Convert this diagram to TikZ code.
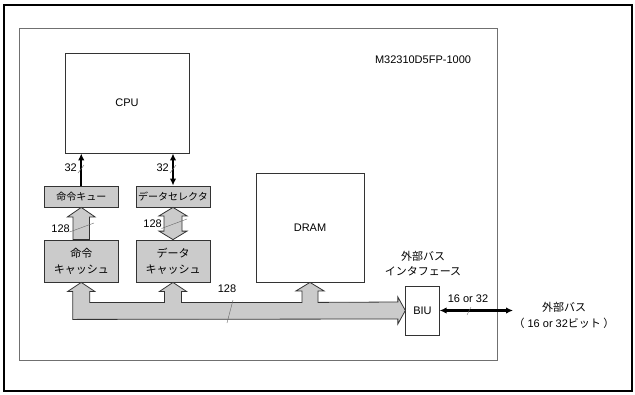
\documentclass[tikz,border=0pt]{standalone}
\usepackage{fontspec}
\setmainfont{Liberation Sans}
\newfontfamily\jp{Noto Sans CJK JP}
\usetikzlibrary{arrows.meta,calc}
\definecolor{boxgray}{HTML}{CBCBCB}
\definecolor{edge}{HTML}{333333}
\definecolor{chipedge}{HTML}{707070}
\begin{document}
\begin{tikzpicture}[x=1pt,y=-1pt,
  every node/.style={font=\fontsize{11}{12}\selectfont, inner sep=0pt},
  whitebox/.style={draw=edge, line width=0.8pt, fill=white},
  graybox/.style={draw=edge, line width=0.8pt, fill=boxgray},
  jtext/.style={font=\jp\fontsize{10}{13.5}\selectfont, align=center},
  thickarrow/.style={line width=2.2pt, -{Latex[length=7pt,width=6.5pt]}},
  thickboth/.style={line width=2.2pt, {Latex[length=7pt,width=6.5pt]}-{Latex[length=7pt,width=6.5pt]}},
  widebus/.style={draw=edge, line width=0.8pt, fill=boxgray, line join=miter},
  slash/.style={draw=black!60, line width=0.4pt},
  lbl/.style={font=\fontsize{11}{12}\selectfont}]
\useasboundingbox (0,0) rectangle (635,394);
\draw[line width=2.6pt] (4,5) rectangle (632,391);
\draw[chipedge, line width=0.9pt] (19,28) rectangle (497,360);

\node[lbl] (chip) at (423,60) {M32310D5FP-1000};

\node[whitebox, minimum width=124pt, minimum height=100pt] (cpu) at (127,103) {CPU};
\node[graybox, jtext, minimum width=74.5pt, minimum height=21pt] (iq) at (81.25,196.5) {命令キュー};
\node[graybox, jtext, minimum width=74pt, minimum height=21pt] (ds) at (173,196.5) {データセレクタ};
\node[graybox, jtext, minimum width=74.5pt, minimum height=42pt, font=\jp\fontsize{11}{16}\selectfont] (ic) at (81.25,261) {命令\\キャッシュ};
\node[graybox, jtext, minimum width=74pt, minimum height=42pt, font=\jp\fontsize{11}{16}\selectfont] (dc) at (173,261) {データ\\キャッシュ};
\node[whitebox, minimum width=108pt, minimum height=109pt] (dram) at (310,227.5) {DRAM};
\node[whitebox, minimum width=33.5pt, minimum height=49pt] (biu) at (422.5,310.5) {BIU};
\node[jtext, font=\jp\fontsize{11}{15}\selectfont] (biulbl) at (423,264) {外部バス\\インタフェース};

% CPU connections
\draw[thickarrow] (iq.north) -- (iq.north |- cpu.south);
\draw[thickboth] (ds.north) -- (ds.north |- cpu.south);
\node[lbl, anchor=east] (w1) at (77,168) {32};
\draw[slash] (78,173) -- (84,165);
\node[lbl, anchor=east] (w2) at (169,168) {32};
\draw[slash] (170,173) -- (176,165);

% iq <- ic wide arrow
\draw[widebus] ($(ic.north)+(-8.25,0)$) -- ($(iq.south)+(-8.25,9.5)$) -- ($(iq.south)+(-13.75,9.5)$)
  -- (iq.south) -- ($(iq.south)+(13.75,9.5)$) -- ($(iq.south)+(8.25,9.5)$) -- ($(ic.north)+(8.25,0)$) -- cycle;
\node[lbl, anchor=east] (w3) at (70,228.5) {128};
\draw[slash] (69.5,232) -- (94,223);

% ds <-> dc wide double arrow
\draw[widebus] (ds.south) -- ($(ds.south)+(14,8.5)$) -- ($(ds.south)+(9,8.5)$) -- ($(dc.north)+(9,-8.5)$)
  -- ($(dc.north)+(14,-8.5)$) -- (dc.north) -- ($(dc.north)+(-14,-8.5)$) -- ($(dc.north)+(-9,-8.5)$)
  -- ($(ds.south)+(-9,8.5)$) -- ($(ds.south)+(-14,8.5)$) -- cycle;
\node[lbl, anchor=east] (w4) at (162,223.5) {128};
\draw[slash] (161.5,228.5) -- (187,219);

% internal bus
\draw[widebus]
  ($(ic.south)+(-8.5,37)$) -- ($(ic.south)+(-8.5,9)$) -- ($(ic.south)+(-13.5,9)$) -- (ic.south)
  -- ($(ic.south)+(13.5,9)$) -- ($(ic.south)+(8.5,9)$) -- ($(ic.south)+(8.5,20)$)
  -- ($(dc.south)+(-8.5,20)$) -- ($(dc.south)+(-8.5,9)$) -- ($(dc.south)+(-13.5,9)$) -- (dc.south)
  -- ($(dc.south)+(13.5,9)$) -- ($(dc.south)+(8.5,9)$) -- ($(dc.south)+(8.5,20)$)
  -- ($(dram.south)+(-8,20)$) -- ($(dram.south)+(-8,8.5)$) -- ($(dram.south)+(-14,8.5)$) -- (dram.south)
  -- ($(dram.south)+(14,8.5)$) -- ($(dram.south)+(8,8.5)$) -- ($(dram.south)+(8,20)$)
  -- ($(biu.west)+(-7.5,-8.5)$) -- ($(biu.west)+(-7.5,-13.5)$) -- (biu.west)
  -- ($(biu.west)+(-7.5,13.5)$) -- ($(biu.west)+(-7.5,8.5)$) -- cycle;
\node[lbl] (w5) at (227,289) {128};
\draw[slash] (227,323) -- (233,300);

% external bus
\coordinate (ext) at (513,310.5);
\draw[thickboth] (biu.east) -- (ext);
\node[lbl] (w6) at (468,299) {16 or 32};
\draw[slash] (467,315) -- (471,307);
\node[jtext, font=\jp\fontsize{11}{16}\selectfont] (extlbl) at (564,315)
  {外部バス\\（{\fontspec{Liberation Sans}\ 16 or 32}ビット ）};
\end{tikzpicture}
\end{document}
